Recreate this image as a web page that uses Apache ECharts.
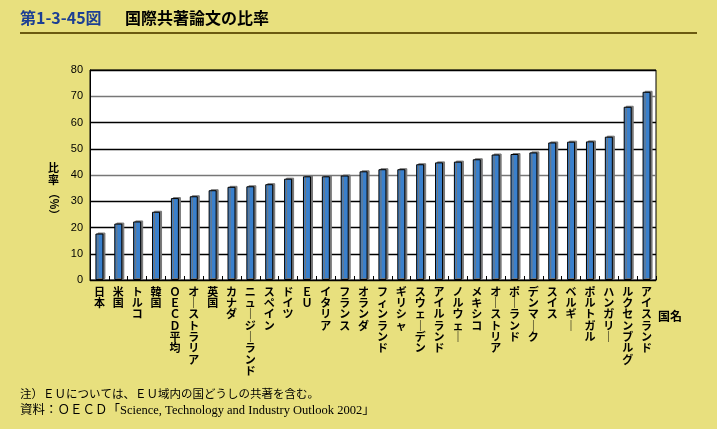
<!DOCTYPE html>
<html><head><meta charset="utf-8">
<script src="https://cdn.jsdelivr.net/npm/echarts@6/dist/echarts.min.js"></script>
<style>html,body{margin:0;padding:0;background:#E8E07E;}#c{width:717px;height:429px;}</style>
</head><body><div id="c"></div>
<script>
var categories = ['日本','米国','トルコ','韓国','ＯＥＣＤ平均','オーストラリア','英国','カナダ','ニュージーランド','スペイン','ドイツ','ＥＵ','イタリア','フランス','オランダ','フィンランド','ギリシャ','スウェーデン','アイルランド','ノルウェー','メキシコ','オーストリア','ポーランド','デンマーク','スイス','ベルギー','ポルトガル','ハンガリー','ルクセンブルグ','アイスランド'];
var ratios = [17.7,21.5,22.3,26.0,31.2,31.9,34.2,35.5,35.7,36.5,38.6,39.5,39.5,39.8,41.4,42.2,42.2,44.1,44.8,45.1,46.0,47.8,48.0,48.6,52.4,52.7,52.8,54.6,66.0,71.7];
var yTicks = [0,10,20,30,40,50,60,70,80];
var F = '"Noto Sans CJK JP", sans-serif';
var S = '"Liberation Serif", "Noto Sans CJK JP", serif';
var chart = echarts.init(document.getElementById('c'));
function vert(s){ return s.replace(/ー/g,'｜').split('').join('\n'); }
chart.setOption({
  backgroundColor:'#E8E07E',
  animation:false,
  grid:{left:90,top:70,width:566,height:210,show:true,backgroundColor:'#fff',borderColor:'#000',borderWidth:1},
  xAxis:{type:'category',data:categories,
    axisLine:{lineStyle:{color:'#000',width:1}},
    axisTick:{show:true,inside:true,length:4,lineStyle:{color:'#000'}},
    axisLabel:{interval:0,formatter:vert,fontFamily:F,fontSize:11,fontWeight:'bold',color:'#000',lineHeight:11.3,verticalAlign:'top',margin:6}},
  yAxis:{type:'value',min:yTicks[0],max:yTicks[yTicks.length-1],interval:10,
    axisLine:{show:true,lineStyle:{color:'#000'}},axisTick:{show:false},
    axisLabel:{fontFamily:'"Liberation Sans", sans-serif',fontSize:11,color:'#000',margin:7},
    splitLine:{lineStyle:{color:['#000','#000','#000','#000','#777','#000','#000','#777','#000'],width:1.3}}},
  series:[{type:'bar',data:ratios,barWidth:8,
    itemStyle:{color:'#3A80CC',borderColor:'#000',borderWidth:1,shadowColor:'#777',shadowBlur:0,shadowOffsetX:2,shadowOffsetY:-1}}],
  graphic:[
    {type:'text',left:20,top:10,style:{text:'第1-3-45図',font:'bold 16px '+F,fill:'#1C3F94'}},
    {type:'text',left:125,top:10,style:{text:'国際共著論文の比率',font:'bold 16px '+F,fill:'#000'}},
    {type:'rect',shape:{x:20,y:32,width:677,height:2},style:{fill:'#6B5A10'}},
    {type:'text',left:48,top:162,style:{text:'比\n率',font:'bold 11px '+F,fill:'#000',lineHeight:12}},
    {type:'text',x:54,y:204,rotation:-Math.PI/2,style:{text:'（%）',font:'bold 11px '+F,fill:'#000',align:'center',verticalAlign:'middle'}},
    {type:'text',left:658,top:310,style:{text:'国名',font:'bold 12px '+F,fill:'#000'}},
    {type:'text',left:20,top:389,style:{text:'注）ＥＵについては、ＥＵ域内の国どうしの共著を含む。',font:'11.5px '+S,fill:'#000'}},
    {type:'text',left:20,top:404,style:{text:'資料：ＯＥＣＤ「Science, Technology and Industry Outlook 2002」',font:'12.5px '+S,fill:'#000'}}
  ]
});
</script></body></html>
